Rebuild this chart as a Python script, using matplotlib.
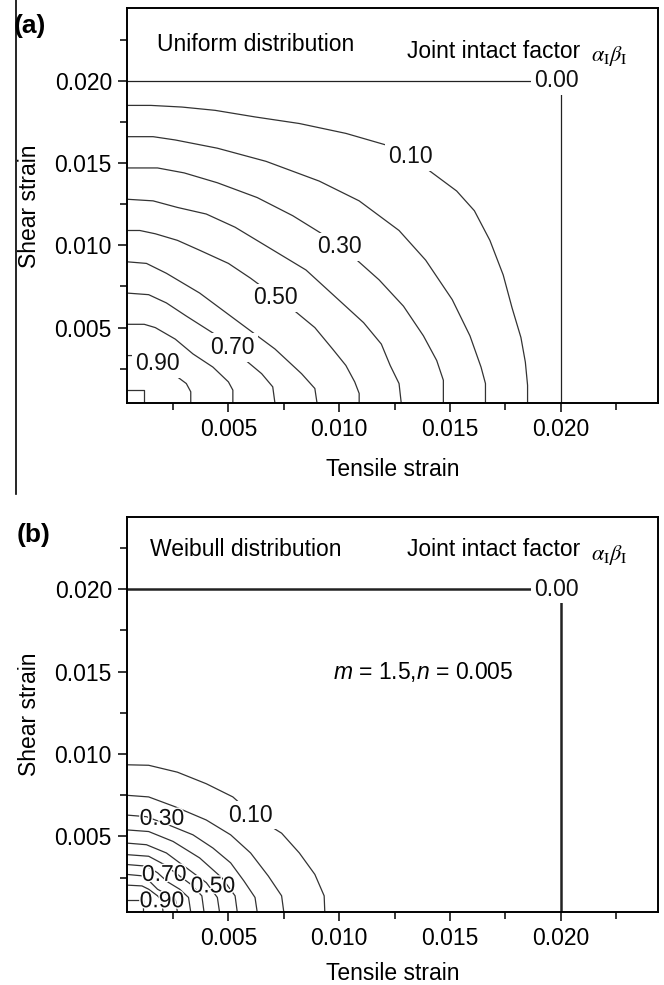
import matplotlib
matplotlib.use('Agg')
import matplotlib.pyplot as plt
import matplotlib.patheffects as pe
from matplotlib.lines import Line2D

plt.rcParams['font.family'] = ['Liberation Sans', 'DejaVu Sans']
plt.rcParams['mathtext.fontset'] = 'custom'
plt.rcParams['mathtext.rm'] = 'Liberation Sans'
plt.rcParams['mathtext.it'] = 'Liberation Sans:italic'

# ---- data ----
tick_values = [0.005, 0.010, 0.015, 0.020]
tick_labels = ['0.005', '0.010', '0.015', '0.020']
minor_values = [0.0025, 0.0075, 0.0125, 0.0175, 0.0225]
lim = (0.0004, 0.0244)

# (a) uniform distribution, contour lines of joint intact factor
uniform_levels = [0.0, 0.1, 0.2, 0.3, 0.4, 0.5, 0.6, 0.7, 0.8, 0.9, 1.0]
uniform_x = [
    [0.0004, 0.0200, 0.0200],
    [0.0004, 0.0015, 0.0029, 0.0044, 0.0062, 0.0082, 0.0103, 0.0121, 0.0133, 0.0143,
     0.0153, 0.0161, 0.0168, 0.0174, 0.0178, 0.0182, 0.0184, 0.0185, 0.0185],
    [0.0004, 0.0016, 0.0026, 0.0045, 0.0067, 0.0091, 0.0109, 0.0118, 0.0127, 0.0139,
     0.0151, 0.0159, 0.0164, 0.0166, 0.0166],
    [0.0004, 0.0018, 0.0030, 0.0045, 0.0063, 0.0079, 0.0091, 0.0100, 0.0108, 0.0118,
     0.0129, 0.0138, 0.0144, 0.0147, 0.0147],
    [0.0004, 0.0016, 0.0027, 0.0040, 0.0053, 0.0069, 0.0085, 0.0098, 0.0111, 0.0119,
     0.0123, 0.0127, 0.0128],
    [0.0004, 0.0010, 0.0017, 0.0027, 0.0037, 0.0050, 0.0060, 0.0070, 0.0080, 0.0089,
     0.0097, 0.0103, 0.0107, 0.0109, 0.0109],
    [0.0004, 0.0013, 0.0022, 0.0037, 0.0054, 0.0071, 0.0083, 0.0089, 0.0090],
    [0.0004, 0.0014, 0.0022, 0.0031, 0.0045, 0.0057, 0.0065, 0.0070, 0.0071],
    [0.0004, 0.0012, 0.0017, 0.0026, 0.0034, 0.0043, 0.0050, 0.0052, 0.0052],
    [0.0004, 0.0011, 0.0016, 0.00235, 0.0031, 0.0033, 0.0033],
    [0.0004, 0.0012, 0.0012],
]
uniform_y = [
    [0.0200, 0.0200, 0.0004],
    [0.0185, 0.0185, 0.0184, 0.0182, 0.0178, 0.0174, 0.0168, 0.0161, 0.0153, 0.0143,
     0.0133, 0.0121, 0.0103, 0.0082, 0.0062, 0.0044, 0.0029, 0.0015, 0.0004],
    [0.0166, 0.0166, 0.0164, 0.0159, 0.0151, 0.0139, 0.0127, 0.0118, 0.0109, 0.0091,
     0.0067, 0.0045, 0.0026, 0.0016, 0.0004],
    [0.0147, 0.0147, 0.0144, 0.0138, 0.0129, 0.0118, 0.0108, 0.0100, 0.0091, 0.0079,
     0.0063, 0.0045, 0.0030, 0.0018, 0.0004],
    [0.0128, 0.0127, 0.0123, 0.0119, 0.0111, 0.0098, 0.0085, 0.0069, 0.0053, 0.0040,
     0.0027, 0.0016, 0.0004],
    [0.0109, 0.0109, 0.0107, 0.0103, 0.0097, 0.0089, 0.0080, 0.0070, 0.0060, 0.0050,
     0.0037, 0.0027, 0.0017, 0.0010, 0.0004],
    [0.0090, 0.0089, 0.0083, 0.0071, 0.0054, 0.0037, 0.0022, 0.0013, 0.0004],
    [0.0071, 0.0070, 0.0065, 0.0057, 0.0045, 0.0031, 0.0022, 0.0014, 0.0004],
    [0.0052, 0.0052, 0.0050, 0.0043, 0.0034, 0.0026, 0.0017, 0.0012, 0.0004],
    [0.0033, 0.0033, 0.0031, 0.00235, 0.0016, 0.0011, 0.0004],
    [0.0012, 0.0012, 0.0004],
]
uniform_label_text = ['0.00', '0.10', '0.30', '0.50', '0.70', '0.90']
uniform_label_x = [0.0198, 0.0132, 0.0100, 0.0071, 0.0052, 0.0018]
uniform_label_y = [0.0200, 0.0154, 0.0099, 0.0068, 0.0038, 0.0028]

# (b) Weibull distribution, m = 1.5, n = 0.005
weibull_levels = [0.0, 0.1, 0.2, 0.3, 0.4, 0.5, 0.6, 0.7, 0.8, 0.9, 1.0]
weibull_x = [
    [0.0004, 0.0200, 0.0200],
    [0.0004, 0.0014, 0.0027, 0.0040, 0.0052, 0.0062, 0.0074, 0.0082, 0.0089, 0.00932, 0.00935],
    [0.0004, 0.0014, 0.0026, 0.0040, 0.0051, 0.0060, 0.0068, 0.0074, 0.0075],
    [0.0004, 0.0013, 0.0023, 0.0034, 0.0043, 0.0051, 0.0057, 0.0062, 0.0063],
    [0.0004, 0.0014, 0.0025, 0.0037, 0.0047, 0.0053, 0.0054],
    [0.0004, 0.0013, 0.0022, 0.0031, 0.0040, 0.0045, 0.0046],
    [0.0004, 0.0014, 0.0021, 0.0027, 0.0033, 0.0038, 0.0039],
    [0.0004, 0.0013, 0.0018, 0.00225, 0.0028, 0.0032, 0.0033],
    [0.0004, 0.0012, 0.0015, 0.0018, 0.0022, 0.0026, 0.0027],
    [0.0004, 0.0011, 0.0014, 0.0018, 0.0020, 0.00205],
    [0.0004, 0.00115, 0.00115],
]
weibull_y = [
    [0.0200, 0.0200, 0.0004],
    [0.00935, 0.00932, 0.0089, 0.0082, 0.0074, 0.0062, 0.0052, 0.0040, 0.0027, 0.0014, 0.0004],
    [0.0075, 0.0074, 0.0068, 0.0060, 0.0051, 0.0040, 0.0026, 0.0014, 0.0004],
    [0.0063, 0.0062, 0.0057, 0.0051, 0.0043, 0.0034, 0.0023, 0.0013, 0.0004],
    [0.0054, 0.0053, 0.0047, 0.0037, 0.0025, 0.0014, 0.0004],
    [0.0046, 0.0045, 0.0040, 0.0031, 0.0022, 0.0013, 0.0004],
    [0.0039, 0.0038, 0.0033, 0.0027, 0.0021, 0.0014, 0.0004],
    [0.0033, 0.0032, 0.0028, 0.00225, 0.0018, 0.0013, 0.0004],
    [0.0027, 0.0026, 0.0022, 0.0018, 0.0015, 0.0012, 0.0004],
    [0.00205, 0.0020, 0.0018, 0.0014, 0.0011, 0.0004],
    [0.00116, 0.00116, 0.0004],
]
weibull_label_text = ['0.00', '0.10', '0.30', '0.50', '0.70', '0.90']
weibull_label_x = [0.0198, 0.0060, 0.0020, 0.0043, 0.0021, 0.0020]
weibull_label_y = [0.0200, 0.0063, 0.0061, 0.0020, 0.0027, 0.0011]

FS = 16.5
LINE_C = '#333333'

fig = plt.figure(figsize=(6.64, 9.85), dpi=100)
ax_a = fig.add_axes([126.5 / 664, (985 - 403.3) / 985, 531.8 / 664, 395.0 / 985])
ax_b = fig.add_axes([126.5 / 664, (985 - 912.3) / 985, 531.8 / 664, 395.6 / 985])


def style(ax, xpad):
    ax.set_xlim(*lim)
    ax.set_ylim(*lim)
    ax.set_xticks(tick_values)
    ax.set_xticklabels(tick_labels)
    ax.set_yticks(tick_values)
    ax.set_yticklabels(tick_labels)
    ax.set_xticks(minor_values, minor=True)
    ax.set_yticks(minor_values, minor=True)
    ax.tick_params(which='major', direction='out', length=6.5, width=1.1,
                   labelsize=FS, pad=4)
    ax.tick_params(which='minor', direction='out', length=5, width=1.1)
    for s in ax.spines.values():
        s.set_linewidth(1.4)
    ax.set_xlabel('Tensile strain', fontsize=FS, labelpad=xpad)
    ax.set_ylabel('Shear strain', fontsize=FS, labelpad=10)


def draw(ax, xs, ys, zero_lw):
    for i, (x, y) in enumerate(zip(xs, ys)):
        lw = zero_lw if i == 0 else 0.9
        ax.plot(x, y, color=LINE_C if i else '#222222', lw=lw,
                solid_joinstyle='round', zorder=2)


def labels(ax, texts, xs, ys, boxed):
    for t, x, y, b in zip(texts, xs, ys, boxed):
        kw = dict(ha='center', va='center', fontsize=FS, color='#111111', zorder=5)
        if b:
            kw['bbox'] = dict(boxstyle='square,pad=0.12', fc='white', ec='none')
        else:
            kw['path_effects'] = [pe.withStroke(linewidth=2, foreground='white')]
        ax.text(x, y, t, **kw)


style(ax_a, 12)
style(ax_b, 9)
draw(ax_a, uniform_x, uniform_y, 0.9)
draw(ax_b, weibull_x, weibull_y, 1.8)
labels(ax_a, uniform_label_text, uniform_label_x, uniform_label_y, [True] * 6)
labels(ax_b, weibull_label_text, weibull_label_x, weibull_label_y,
       [True, True, False, False, False, False])

# in-panel annotations
ax_a.text(0.00176, 0.0218, 'Uniform distribution', fontsize=FS)
ax_a.text(0.0209, 0.0214, 'Joint intact factor', fontsize=FS, ha='right')
ax_a.text(0.02135, 0.0212, r'$\alpha_{\mathrm{I}}\beta_{\mathrm{I}}$', fontsize=16,
          math_fontfamily='stix')
ax_b.text(0.00144, 0.0220, 'Weibull distribution', fontsize=FS)
ax_b.text(0.0209, 0.0220, 'Joint intact factor', fontsize=FS, ha='right')
ax_b.text(0.02135, 0.0218, r'$\alpha_{\mathrm{I}}\beta_{\mathrm{I}}$', fontsize=16,
          math_fontfamily='stix')
ax_b.text(0.0138, 0.0150, r'$m$ = 1.5,$n$ = 0.005', fontsize=FS, ha='center', va='center')

fig.text(14 / 664, 1 - 26.5 / 985, '(a)', fontsize=19, fontweight='bold', va='center')
fig.text(17 / 664, 1 - 535 / 985, '(b)', fontsize=19, fontweight='bold', va='center')
fig.add_artist(Line2D([16 / 664, 16 / 664], [1.0, 1 - 494 / 985], color='black', lw=1.2))

fig.savefig('out.png', dpi=100)
